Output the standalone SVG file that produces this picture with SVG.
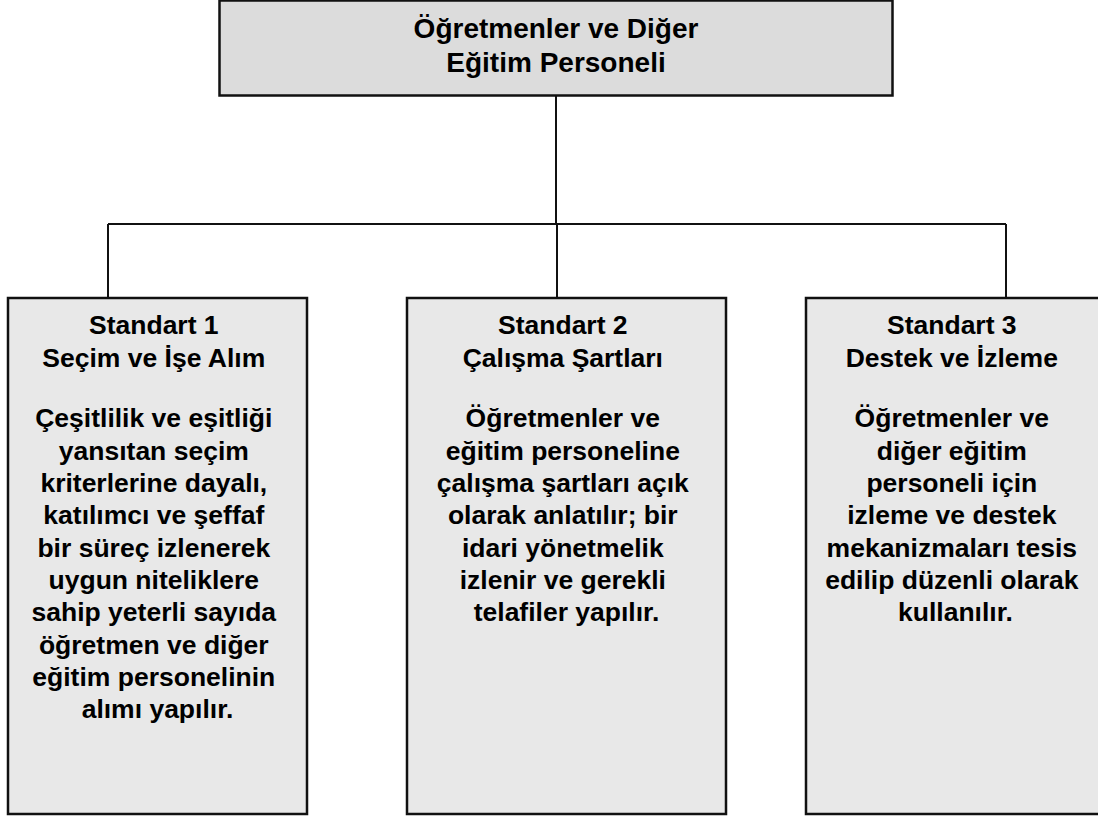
<svg xmlns="http://www.w3.org/2000/svg" width="1098" height="820" viewBox="0 0 1098 820">
<style>
.box{stroke:#111;stroke-width:2.5}
.top{fill:#dcdcdc}
.std{fill:#e8e8e8}
.t{font-family:"Liberation Sans",Arial,sans-serif;font-weight:bold;fill:#000;text-anchor:middle}
.title{font-size:28px}
.body{font-size:26.5px}
.conn{stroke:#111;stroke-width:2;fill:none}
</style>
<rect width="1098" height="820" fill="#fff"/>
<g id="connectors">
<path class="conn" d="M556,96 V224"/>
<path class="conn" d="M108,224 H1006"/>
<path class="conn" d="M108,224 V298"/>
<path class="conn" d="M557,224 V298"/>
<path class="conn" d="M1006,224 V298"/>
</g>
<g id="node-top">
<rect class="box top" x="219.5" y="0.5" width="673" height="95"/>
<text class="t title" x="556" y="38">Öğretmenler ve Diğer</text>
<text class="t title" x="556" y="72">Eğitim Personeli</text>
</g>
<g id="node-standart1">
<rect class="box std" x="8" y="298" width="299" height="516"/>
<text class="t body">
<tspan x="157.5" y="334">Standart 1</tspan>
<tspan x="157.5" y="367">Seçim ve İşe Alım</tspan>
<tspan x="157.5" y="427">Çeşitlilik ve eşitliği</tspan>
<tspan x="157.5" y="459.5">yansıtan seçim</tspan>
<tspan x="157.5" y="492">kriterlerine dayalı,</tspan>
<tspan x="157.5" y="524">katılımcı ve şeffaf</tspan>
<tspan x="157.5" y="556.5">bir süreç izlenerek</tspan>
<tspan x="157.5" y="589">uygun niteliklere</tspan>
<tspan x="157.5" y="621">sahip yeterli sayıda</tspan>
<tspan x="157.5" y="653.5">öğretmen ve diğer</tspan>
<tspan x="157.5" y="686">eğitim personelinin</tspan>
<tspan x="157.5" y="718">alımı yapılır.</tspan>
</text>
</g>
<g id="node-standart2">
<rect class="box std" x="407" y="298" width="319" height="516"/>
<text class="t body">
<tspan x="566.5" y="334">Standart 2</tspan>
<tspan x="566.5" y="367">Çalışma Şartları</tspan>
<tspan x="566.5" y="427">Öğretmenler ve</tspan>
<tspan x="566.5" y="459.5">eğitim personeline</tspan>
<tspan x="566.5" y="492">çalışma şartları açık</tspan>
<tspan x="566.5" y="524">olarak anlatılır; bir</tspan>
<tspan x="566.5" y="556.5">idari yönetmelik</tspan>
<tspan x="566.5" y="589">izlenir ve gerekli</tspan>
<tspan x="566.5" y="621">telafiler yapılır.</tspan>
</text>
</g>
<g id="node-standart3">
<rect class="box std" x="806" y="298" width="299" height="516"/>
<text class="t body">
<tspan x="955.5" y="334">Standart 3</tspan>
<tspan x="955.5" y="367">Destek ve İzleme</tspan>
<tspan x="955.5" y="427">Öğretmenler ve</tspan>
<tspan x="955.5" y="459.5">diğer eğitim</tspan>
<tspan x="955.5" y="492">personeli için</tspan>
<tspan x="955.5" y="524">izleme ve destek</tspan>
<tspan x="955.5" y="556.5">mekanizmaları tesis</tspan>
<tspan x="955.5" y="589">edilip düzenli olarak</tspan>
<tspan x="955.5" y="621">kullanılır.</tspan>
</text>
</g>
</svg>
